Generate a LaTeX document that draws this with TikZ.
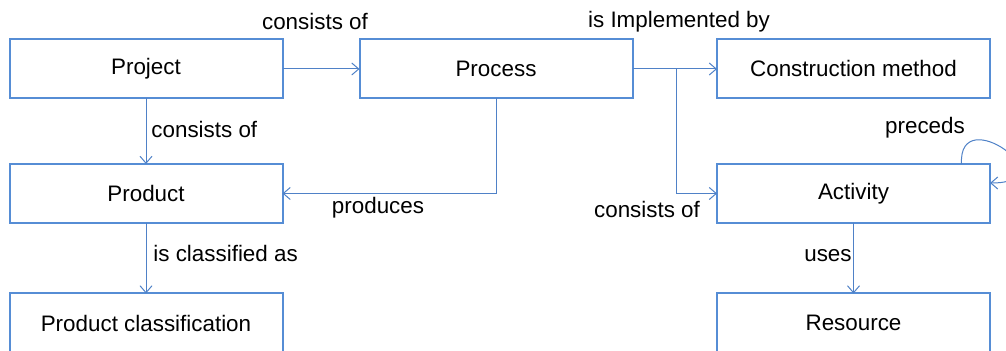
\documentclass[tikz,border=0pt]{standalone}
\usepackage{fontspec}
\setmainfont{Liberation Sans}
\usepackage{tikz}
\usetikzlibrary{
	arrows.meta,
	calc,
}
\definecolor{boxblue}{RGB}{86,141,213}
\definecolor{linkblue}{RGB}{79,129,199}
\tikzset{
	entity/.style={draw=boxblue, line width=1pt, minimum width=136.5pt, minimum height=29.5pt, inner sep=0pt, outer sep=0pt, font=\fontsize{11.2}{13.4}\selectfont},
	link/.style={draw=linkblue, line width=0.5pt, -{Straight Barb[length=3.5pt,width=6pt]}},
	role/.style={font=\fontsize{11.2}{13.4}\selectfont, inner sep=0pt},
}

\begin{document}
\begin{tikzpicture}[x=0.5pt, y=-0.5pt]
            \useasboundingbox (0,0) rectangle (1006,351);

            \node[entity] (project)   at (146,69)    {Project};
            \node[entity] (process)   at (496,69)    {Process};
            \node[entity] (method)    at (853.5,69)  {Construction method};
            \node[entity] (product)   at (146,193.5) {Product};
            \node[entity] (prodclass) at (146,323)   {Product classification};
            \node[entity] (activity)  at (853.5,193.5) {Activity};
            \node[entity] (resource)  at (853.5,323) {Resource};
            \coordinate (split) at (676,69);

            \draw[link] (project.east) -- (process.west);
            \draw[link] (process.east) -- (method.west);
            \draw[link] (split) |- (activity.west);
            \draw[link] (project.south) -- (product.north);
            \draw[link] (process.south) |- (product.east);
            \draw[link] (product.south) -- (prodclass.north);
            \draw[link] (activity.south) -- (resource.north);
            \draw[link] ([xshift=54pt]activity.north) .. controls (958,100) and (1070,183) .. ([yshift=5.25pt]activity.east);

            \node[role] (lblcons1) at (315,22)  {consists of};
            \node[role] (lblimpl)  at (679,22)  {is Implemented by};
            \node[role, anchor=west] (lblcons2) at (151,129) {consists of};
            \node[role] (lblprod)  at (378,208) {produces};
            \node[role] (lblcons3) at (647,209) {consists of};
            \node[role, anchor=west] (lblclass) at (153,253) {is classified as};
            \node[role, anchor=east] (lbluses) at (852,256) {uses};
            \node[role] (lblprec)  at (925,128) {preceds};
	\end{tikzpicture}
\end{document}
